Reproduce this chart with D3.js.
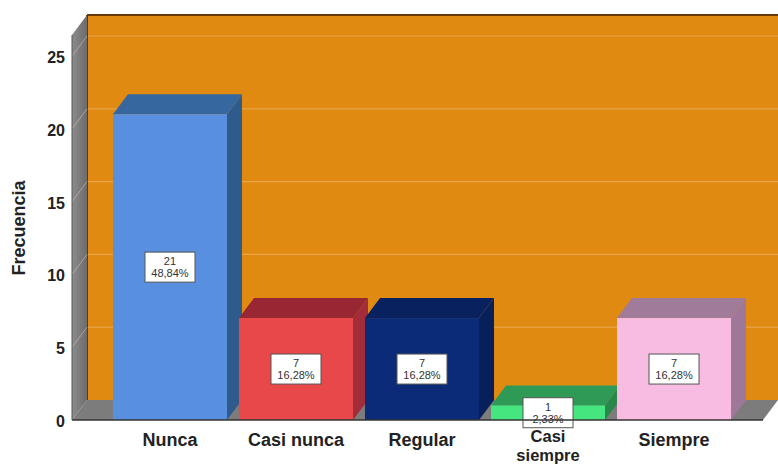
<!DOCTYPE html>
<html><head><meta charset="utf-8">
<script src="https://cdn.jsdelivr.net/npm/d3@7"></script>
<style>body{margin:0;background:#fff}svg{display:block}</style>
</head><body>
<svg id="c" width="778" height="466"></svg>
<script>
const categories=["Nunca","Casi nunca","Regular","Casi siempre","Siempre"];
const counts=[21,7,7,1,7];
const percents=["48,84%","16,28%","16,28%","2,33%","16,28%"];
const yTicks=[0,5,10,15,20,25];
const frontColors=["#5890DF","#E84849","#0B2A78","#45E67F","#F8BCE2"];
const topColors=["#36679F","#982733","#0A2160","#2F9A56","#A07B9A"];
const sideColors=["#2F5B8C","#A22C3A","#07205A","#28874B","#9F7899"];

const svg=d3.select("#c");
const FONT="Liberation Sans, Arial, sans-serif";
const dx=15, dy=-20;
const y=d3.scaleLinear().domain([0,25]).range([420,56]);
const x=d3.scaleBand().domain(categories).range([101,743]).paddingInner(0.095).paddingOuter(0.095);
const left=72, right=763, y0=y(0), yTop=35;

// back wall
svg.append("rect").attr("x",left+dx).attr("y",yTop+dy).attr("width",778-left-dx).attr("height",y0-yTop).attr("fill","#E08A12");
svg.selectAll(".g").data(yTicks.filter(d=>d>0)).enter().append("line")
  .attr("x1",left+dx).attr("x2",778).attr("y1",d=>y(d)+dy).attr("y2",d=>y(d)+dy)
  .attr("stroke","#EDB060").attr("stroke-width",1.2).attr("opacity",0.7);
svg.append("line").attr("x1",left+dx).attr("x2",778).attr("y1",yTop+dy).attr("y2",yTop+dy).attr("stroke","#6A3808").attr("stroke-width",2);
svg.append("line").attr("x1",left+dx).attr("x2",left+dx).attr("y1",yTop+dy).attr("y2",y0+dy).attr("stroke","#6A3808").attr("stroke-width",2);
// floor
svg.append("polygon").attr("points",[[left,y0],[left+dx,y0+dy],[778,y0+dy],[right,y0]].join(" ")).attr("fill","#7C7C7C");
// left wall
const lg=svg.append("defs").append("linearGradient").attr("id","lw").attr("x1",0).attr("x2",1);
lg.append("stop").attr("offset",0).attr("stop-color","#8C8C8C");
lg.append("stop").attr("offset",1).attr("stop-color","#6C6C6C");
svg.append("polygon").attr("points",[[left,yTop],[left+dx,yTop+dy],[left+dx,y0+dy],[left,y0]].join(" ")).attr("fill","url(#lw)");
svg.selectAll(".lg").data(yTicks.filter(d=>d>0)).enter().append("line")
  .attr("x1",left).attr("x2",left+dx).attr("y1",d=>y(d)).attr("y2",d=>y(d)+dy)
  .attr("stroke","#C8C8C8").attr("stroke-width",1).attr("opacity",0.6);

// bars
const data=categories.map((c,i)=>({c,v:counts[i],p:percents[i],i}));
const bars=svg.selectAll(".bar").data(data).enter().append("g");
bars.append("polygon").attr("points",d=>{const x0=x(d.c)+x.bandwidth(),yv=y(d.v);return [[x0,yv],[x0+dx,yv+dy],[x0+dx,y0+dy],[x0,y0]].join(" ")}).attr("fill",d=>sideColors[d.i]);
bars.append("polygon").attr("points",d=>{const x0=x(d.c),w=x.bandwidth(),yv=y(d.v);return [[x0,yv],[x0+dx,yv+dy],[x0+w+dx,yv+dy],[x0+w,yv]].join(" ")}).attr("fill",d=>topColors[d.i]);
bars.append("rect").attr("x",d=>x(d.c)).attr("y",d=>y(d.v)).attr("width",x.bandwidth()).attr("height",d=>y0-y(d.v)).attr("fill",d=>frontColors[d.i]);

// axis lines
svg.append("line").attr("x1",left).attr("x2",right).attr("y1",y0).attr("y2",y0).attr("stroke","#333").attr("stroke-width",1.5);
svg.append("line").attr("x1",left).attr("x2",left).attr("y1",yTop).attr("y2",y0).attr("stroke","#555").attr("stroke-width",1);

// labels on bars
const lab=bars.append("g").attr("transform",d=>`translate(${x(d.c)+x.bandwidth()/2},${(y(d.v)+y0)/2})`);
lab.append("rect").attr("x",-25).attr("y",-15).attr("width",50).attr("height",30).attr("fill","#fff").attr("stroke","#555").attr("stroke-width",1);
lab.append("text").attr("text-anchor","middle").attr("y",-2).attr("font-family",FONT).attr("font-size",11).attr("fill","#333").text(d=>d.v);
lab.append("text").attr("text-anchor","middle").attr("y",10).attr("font-family",FONT).attr("font-size",11).attr("fill","#333").text(d=>d.p);

// y axis ticks
const ya=svg.append("g").attr("transform",`translate(${left},0)`).call(d3.axisLeft(y).tickValues(yTicks).tickSize(0).tickPadding(7));
ya.select(".domain").remove();
ya.selectAll("text").attr("font-family",FONT).attr("font-size",16).attr("font-weight","bold").attr("fill","#222").attr("dy","0.4em");

// x labels
const xl=svg.selectAll(".xl").data(categories).enter().append("text")
  .attr("text-anchor","middle").attr("font-family",FONT).attr("font-weight","bold").attr("fill","#222")
  .attr("font-size",d=>d==="Casi siempre"?16.5:18)
  .attr("transform",d=>`translate(${x(d)+x.bandwidth()/2},${d==="Casi siempre"?442:446})`);
xl.each(function(d){
  const words=d==="Casi siempre"?["Casi","siempre"]:[d];
  d3.select(this).selectAll("tspan").data(words).enter().append("tspan").attr("x",0).attr("dy",(w,i)=>i?18.5:0).text(w=>w);
});

// y title
svg.append("text").attr("transform","translate(25,228) rotate(-90)").attr("text-anchor","middle")
  .attr("font-family",FONT).attr("font-size",18).attr("font-weight","bold").attr("fill","#222").text("Frecuencia");
</script>
</body></html>
